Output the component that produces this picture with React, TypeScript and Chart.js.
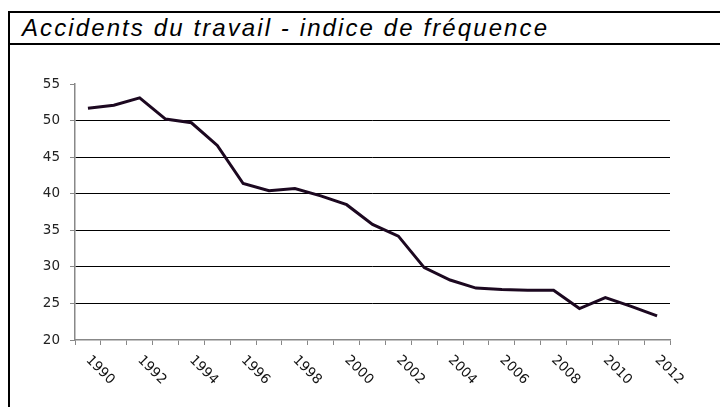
import React, { useEffect, useRef } from "react";
import { Chart, registerables } from "chart.js";

Chart.register(...registerables);

const title = "Accidents du travail - indice de fréquence";

const years = [
  "1990", "1991", "1992", "1993", "1994", "1995", "1996", "1997", "1998", "1999",
  "2000", "2001", "2002", "2003", "2004", "2005", "2006", "2007", "2008", "2009",
  "2010", "2011", "2012",
];

const frequencyIndex = [
  51.7, 52.1, 53.1, 50.2, 49.7, 46.6, 41.4, 40.4, 40.7, 39.7,
  38.5, 35.8, 34.2, 29.9, 28.2, 27.1, 26.9, 26.8, 26.8, 24.3,
  25.8, 24.6, 23.3,
];

// tick labels shown on the category axis (every other year)
const xTickLabels = [
  "1990", "", "1992", "", "1994", "", "1996", "", "1998", "",
  "2000", "", "2002", "", "2004", "", "2006", "", "2008", "",
  "2010", "", "2012",
];

const yMin = 20;
const yMax = 55;
const yStep = 5;

const rotatedLabels = {
  id: "rotatedLabels",
  afterDraw(chart: any) {
    const xs = chart.scales.x;
    const ctx = chart.ctx;
    ctx.save();
    ctx.font = "13.5px 'DejaVu Sans', Verdana, sans-serif";
    ctx.fillStyle = "#111";
    ctx.textAlign = "left";
    ctx.textBaseline = "middle";
    xTickLabels.forEach((lab, i) => {
      if (!lab) return;
      const x = xs.getPixelForValue(i);
      const y = xs.top + 18;
      ctx.save();
      ctx.translate(x, y);
      ctx.rotate(Math.PI / 4);
      ctx.fillText(lab, 0, 0);
      ctx.restore();
    });
    ctx.restore();
  },
};

function LineChart() {
  const ref = useRef<HTMLCanvasElement | null>(null);
  useEffect(() => {
    document.documentElement.style.overflow = "hidden";
    document.body.style.overflow = "hidden";
    if (!ref.current) return;
    const chart = new Chart(ref.current, {
      type: "line",
      data: {
        labels: years,
        datasets: [
          {
            data: frequencyIndex,
            borderColor: "#1c0820",
            borderWidth: 3,
            pointRadius: 0,
            tension: 0,
            fill: false,
          },
        ],
      },
      options: {
        animation: false,
        responsive: false,
        layout: { padding: { left: 0, top: 39, right: 58, bottom: 0 } },
        plugins: { legend: { display: false }, tooltip: { enabled: false } },
        scales: {
          x: {
            type: "category",
            offset: true,
            grid: {
              offset: true,
              drawOnChartArea: false,
              drawTicks: true,
              tickLength: 5,
              color: "#888",
              tickColor: "#888",
            },
            border: { display: true, color: "#888", width: 1.5 },
            ticks: {
              autoSkip: false,
              maxRotation: 0,
              minRotation: 0,
              color: "rgba(0,0,0,0)",
              callback: (_v: any, i: number) => xTickLabels[i],
            },
            afterFit: (s: any) => {
              s.height = 70;
            },
          },
          y: {
            min: yMin,
            max: yMax,
            ticks: {
              stepSize: yStep,
              color: "#222",
              padding: 10,
              font: { family: "'DejaVu Sans', Verdana, sans-serif", size: 13.5 },
            },
            grid: {
              drawTicks: true,
              tickLength: 5,
              tickColor: "#888",
              color: (c: any) =>
                c.tick && (c.tick.value === yMin || c.tick.value === yMax)
                  ? "rgba(0,0,0,0)"
                  : "#000",
              lineWidth: 1,
            },
            border: { display: true, color: "#888", width: 1.5 },
            afterFit: (s: any) => {
              s.width = 65;
            },
          },
        },
      },
      plugins: [rotatedLabels],
    });
    return () => chart.destroy();
  }, []);
  return <canvas ref={ref} width={718} height={365} style={{ display: "block", width: 718, height: 365 }} />;
}

export default function App() {
  return (
    <div
      style={{
        position: "relative",
        top: 3,
        width: 718,
        borderTop: "2px solid #000",
        borderLeft: "2px solid #000",
        background: "#fff",
      }}
    >
      <div
        style={{
          height: 30,
          borderBottom: "2px solid #000",
          paddingLeft: 12,
          fontFamily: "'Liberation Sans', Arial, sans-serif",
          fontStyle: "italic",
          fontSize: 24,
          letterSpacing: "2.1px",
          lineHeight: "30px",
          whiteSpace: "nowrap",
          color: "#000",
        }}
      >
        {title}
      </div>
      <LineChart />
    </div>
  );
}
